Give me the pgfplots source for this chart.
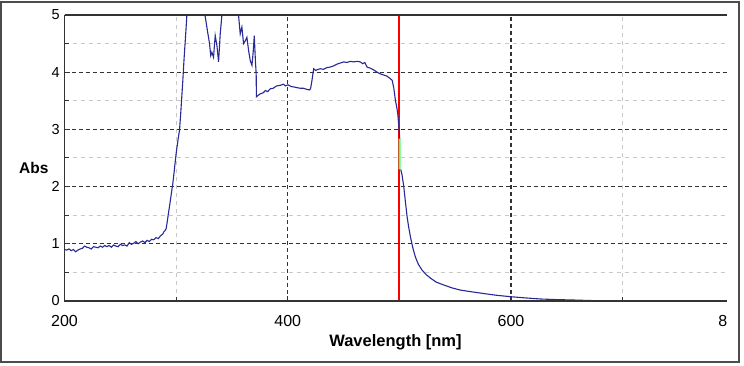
\documentclass[border=0pt]{standalone}
\usepackage{fontspec}
\setmainfont{Liberation Sans}
\usepackage{pgfplots}
\pgfplotsset{compat=1.18}
\definecolor{curveblue}{RGB}{40,40,150}
\definecolor{gmaj}{RGB}{50,50,50}
\definecolor{gmin}{RGB}{200,200,200}
\begin{document}
\begin{tikzpicture}
\begin{axis}[
  at={(0,0)}, anchor=south west,
  scale only axis, width=662pt, height=286pt,
  xmin=200, xmax=793, ymin=0, ymax=5,
  xtick={200,400,600}, minor xtick={300,700},
  ytick={0,1,2,3,4,5}, minor ytick={0.5,1.5,2.5,3.5,4.5},
  xtick pos=bottom, ytick pos=left,
  tick align=inside,
  major tick length=5pt, minor tick length=4pt,
  tick style={gmaj, line width=1pt},
  grid=both,
  major grid style={gmaj, line width=1.2pt, dash pattern=on 4pt off 3pt},
  minor grid style={gmin, line width=1pt, dash pattern=on 4pt off 4pt},
  axis line style={draw=none},
  /pgf/number format/assume math mode=true,
  xticklabel style={font=\fontsize{16}{18}\selectfont, anchor=north, inner sep=0pt, yshift=-14pt},
  yticklabel style={font=\fontsize{14.5}{16}\selectfont, anchor=east, inner sep=0pt, xshift=-4.5pt},
  xlabel={Wavelength [nm]},
  xlabel style={font=\bfseries\fontsize{16.5}{18}\selectfont, at={(axis description cs:0.5,0)}, anchor=base, yshift=-45.7pt, inner sep=0pt},
  ylabel={Abs},
  ylabel style={font=\bfseries\fontsize{15.5}{17}\selectfont, rotate=-90, at={(axis description cs:0,0.464)}, anchor=center, xshift=-30.7pt, inner sep=0pt},
  clip=false,
]
\addplot[red, line width=2pt, no markers] coordinates {(500,0) (500,5)};
\addplot[color=curveblue, line width=1.1pt] coordinates {
(200,0.90) (202,0.89) (204,0.91) (206,0.88) (208,0.90) (210,0.86) (212,0.89) (214,0.91)
(216,0.92) (218,0.96) (220,0.94) (222,0.93) (224,0.91) (226,0.95) (228,0.94) (230,0.93)
(232,0.96) (234,0.94) (236,0.97) (238,0.95) (240,0.97) (242,0.94) (244,0.98) (246,0.96)
(248,0.95) (250,0.99) (252,0.97) (254,0.98) (256,0.96) (258,1.02) (260,0.99) (262,1.01)
(264,1.04) (266,1.00) (268,1.03) (270,1.05) (272,1.02) (274,1.06) (276,1.04) (278,1.08)
(280,1.07) (282,1.11) (284,1.09) (286,1.14) (288,1.17) (289,1.21) (290,1.23) (291,1.26)
(292,1.38) (293,1.52) (294,1.65) (295,1.78) (296,1.92) (297,2.05) (298,2.22) (299,2.40)
(300,2.58) (301,2.72) (302,2.86) (303,2.98) (304,3.25) (305,3.55) (306,3.86) (307,4.20)
(308,4.50) (309,4.80) (309.6,5.00) (325.4,5.00) (326,4.98) (327.5,4.79) (329.9,4.50)
(331,4.29) (332,4.35) (333.5,4.26) (335,4.64) (336.5,4.47) (338,4.18) (339.5,4.67)
(341,5.00) (355.9,5.00) (357.4,4.67) (358.9,4.79) (360.4,4.50) (362,4.55) (363.4,4.61)
(364.9,4.38) (366.4,4.20) (367.9,4.12) (369,4.35) (370,4.64) (371,4.20) (371.7,3.97)
(371.9,3.57) (373,3.59) (375.3,3.62) (378,3.64) (380,3.68) (382,3.66) (384.3,3.71)
(387,3.72) (390,3.76) (393.3,3.77) (396,3.79) (398,3.76) (400.2,3.78) (403,3.75)
(406,3.74) (408.2,3.73) (411,3.72) (414,3.72) (417,3.70) (419.6,3.69) (420.5,3.72)
(421.7,3.86) (423.2,4.06) (425,4.03) (427,4.05) (429.1,4.06) (432,4.05) (435,4.08)
(438.1,4.09) (441,4.11) (444,4.14) (447.1,4.16) (450,4.18) (453,4.17) (456,4.19)
(459,4.18) (462,4.19) (465,4.18) (467,4.15) (469,4.17) (471,4.09) (474,4.07) (477,4.04)
(480,4.00) (483,3.97) (486,3.95) (489,3.93) (491,3.90) (493.5,3.86) (495,3.72)
(496.4,3.51) (497.5,3.40) (498.5,3.28) (499.5,3.05) (500.3,2.84)
};
\addplot[color=curveblue, line width=1.1pt] coordinates {
(501.2,2.30) (502.4,2.20) (503.9,2.00) (505.4,1.73) (506.9,1.47) (508.4,1.28) (509.9,1.12)
(512,0.93) (514.3,0.77) (517,0.64) (520.3,0.54) (524,0.46) (527.8,0.40) (533,0.33)
(539.7,0.28) (547,0.23) (554.7,0.19) (565,0.16) (575.6,0.13) (587,0.10) (599.6,0.075)
(612,0.055) (626.5,0.035) (640,0.025) (656.3,0.017) (668,0.010) (680,0.003) (690,0) (793,0)
};
\addplot[green!80!cyan!70, line width=2pt, no markers] coordinates {(500.2,2.84) (500.3,2.30)};
\draw[black!80, line width=1.4pt] (rel axis cs:0,1) -- (rel axis cs:0,0) -- (rel axis cs:1,0);
\draw[black!80, line width=1.4pt] (rel axis cs:0,1) -- (rel axis cs:1,1);
\node[anchor=north east, inner sep=0pt, font=\fontsize{16}{18}\selectfont, yshift=-14pt, xshift=1pt] at (rel axis cs:1,0) {8};
\end{axis}
\draw[black!70, line width=1.5pt] (-63.5pt,-61pt) rectangle (674.5pt,299pt);
\path (-64.5pt,-65pt) rectangle (679.5pt,301pt);
\end{tikzpicture}
\end{document}
